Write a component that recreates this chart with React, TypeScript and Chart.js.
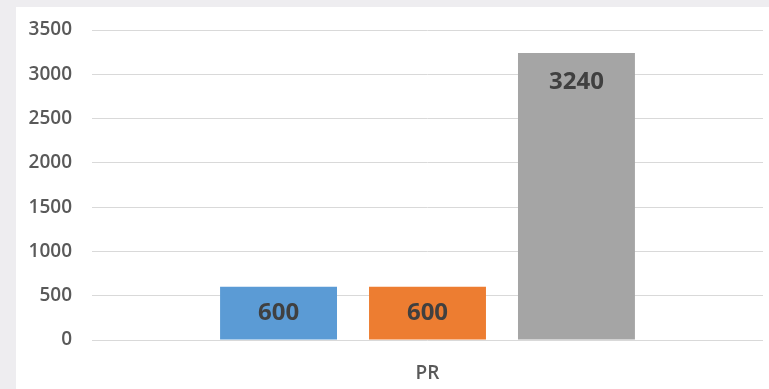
import React, { useEffect, useRef } from "react";
import { Chart, registerables } from "chart.js";

Chart.register(...registerables);

const categories = ["PR"];
const seriesA = [600];
const seriesB = [600];
const seriesC = [3240];
const yTicks = [0, 500, 1000, 1500, 2000, 2500, 3000, 3500];

const labelFont = "'Open Sans', 'Liberation Sans', sans-serif";

// Draws each bar's value near the top of the bar (centred when the bar is short)
const valueLabels = {
  id: "valueLabels",
  afterDatasetsDraw(chart: any) {
    const ctx = chart.ctx;
    ctx.save();
    ctx.font = `700 24px ${labelFont}`;
    ctx.fillStyle = "#404040";
    ctx.textAlign = "center";
    ctx.textBaseline = "middle";
    chart.data.datasets.forEach((ds: any, i: number) => {
      const meta = chart.getDatasetMeta(i);
      meta.data.forEach((bar: any, j: number) => {
        const h = bar.base - bar.y;
        const off = Math.min(29.5, h / 2);
        ctx.fillText(String(ds.data[j]), bar.x, bar.y + off);
      });
    });
    ctx.restore();
  },
};

export default function App() {
  const ref = useRef<HTMLCanvasElement | null>(null);

  useEffect(() => {
    document.body.style.margin = "0";
    const canvas = ref.current;
    if (!canvas) return;
    const chart = new Chart(canvas, {
      type: "bar",
      data: {
        labels: categories,
        datasets: [
          { label: "A", data: seriesA, backgroundColor: "#5b9bd5" },
          { label: "B", data: seriesB, backgroundColor: "#ed7d31" },
          { label: "C", data: seriesC, backgroundColor: "#a5a5a5" },
        ],
      },
      options: {
        animation: false,
        responsive: false,
        maintainAspectRatio: false,
        layout: { padding: { top: 23, right: 6, bottom: 0, left: 0 } },
        datasets: {
          bar: { categoryPercentage: 0.666, barPercentage: 0.785 },
        },
        plugins: {
          legend: { display: false },
          tooltip: { enabled: false },
        },
        scales: {
          x: {
            grid: { display: false },
            border: { display: false },
            ticks: {
              color: "#595959",
              font: { family: labelFont, size: 19, weight: "600" },
              padding: 14,
              maxRotation: 0,
            },
            afterFit(scale: any) {
              scale.height = 49;
              scale.paddingLeft = 0;
              scale.paddingRight = 0;
            },
          },
          y: {
            min: 0,
            max: 3500,
            afterBuildTicks(scale: any) {
              scale.ticks = yTicks.map((v) => ({ value: v }));
            },
            grid: { color: "#d9d9d9", lineWidth: 1, drawTicks: false },
            border: { display: false },
            ticks: {
              color: "#595959",
              font: { family: labelFont, size: 19, weight: "600" },
              padding: 20,
              callback: (v: any) => String(v),
            },
            afterFit(scale: any) {
              scale.width = 76;
              scale.paddingTop = 0;
              scale.paddingBottom = 0;
            },
          },
        },
      },
      plugins: [valueLabels],
    });
    return () => chart.destroy();
  }, []);

  return (
    <div
      style={{
        position: "fixed",
        left: 0,
        top: 0,
        width: 769,
        height: 389,
        background: "#eeedf0",
      }}
    >
      <canvas
        ref={ref}
        width={753}
        height={382}
        style={{
          position: "absolute",
          left: 16,
          top: 7,
          width: 753,
          height: 382,
          background: "#ffffff",
        }}
      />
    </div>
  );
}
